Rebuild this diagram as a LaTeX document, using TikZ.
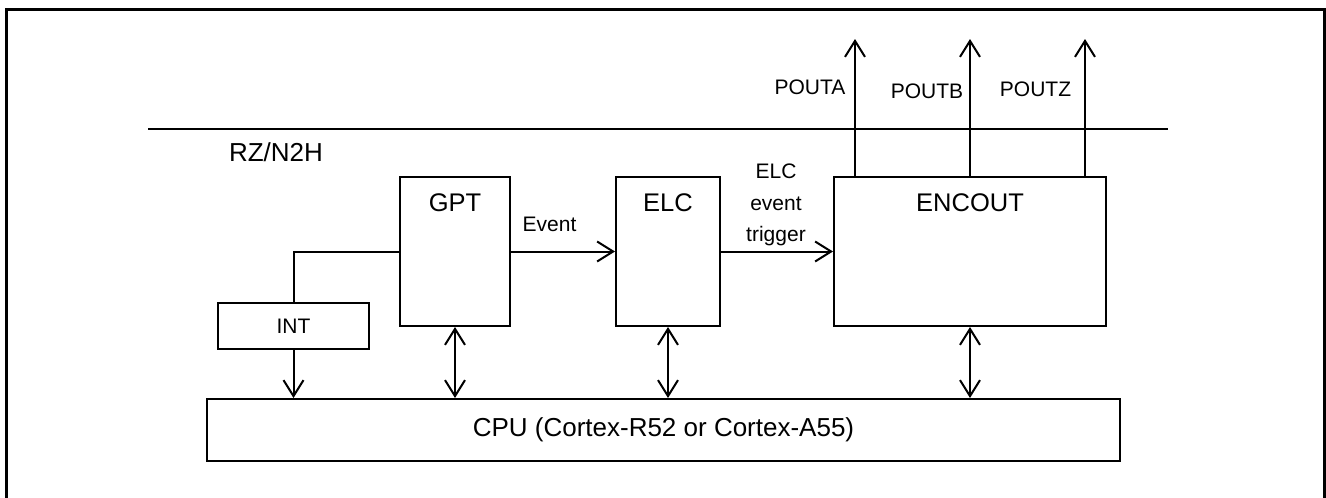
\documentclass[tikz,border=0pt]{standalone}
\usepackage{fontspec}
\setmainfont{Liberation Sans}
\usetikzlibrary{arrows.meta}
\tikzset{
  box/.style={draw=black, line width=2pt, inner sep=0pt, fill=none},
  conn/.style={line width=2pt, black},
  tip/.style={-{Straight Barb[length=16pt,width=20pt,line width=2pt]}},
  dtip/.style={{Straight Barb[length=16pt,width=20pt,line width=2pt]}-{Straight Barb[length=16pt,width=20pt,line width=2pt]}},
  title/.style={font=\fontsize{25.5}{30}\selectfont, inner sep=0pt, anchor=center},
  sig/.style={font=\fontsize{21}{31.5}\selectfont, inner sep=0pt, anchor=base}
}
\begin{document}
\begin{tikzpicture}[x=1pt,y=-1pt]
\useasboundingbox (0,0) rectangle (1326,498);
\fill[white] (0,0) rectangle (1326,498);
\begin{scope}
\clip (0,0) rectangle (1326,498);
\node[draw, line width=3pt, inner sep=0pt, minimum width=1318pt, minimum height=520pt, anchor=north west] (frame) at (5,7.5) {};
\end{scope}
\coordinate (bl) at (148,129);
\coordinate (br) at (1168,129);
\draw[line width=1.6pt] (bl) -- (br);
\node[font=\fontsize{26}{30}\selectfont, inner sep=0pt, anchor=base] (rz) at (276,161.5) {RZ/N2H};

\node[box, minimum width=110pt, minimum height=149pt] (gpt) at (455,251.5) {};
\node[box, minimum width=104pt, minimum height=149pt] (elc) at (668,251.5) {};
\node[box, minimum width=272pt, minimum height=149pt] (enc) at (970,251.5) {};
\node[box, minimum width=151pt, minimum height=46pt, font=\fontsize{21}{25}\selectfont] (int) at (293.5,326) {INT};
\node[box, minimum width=913pt, minimum height=62pt, font=\fontsize{26}{30}\selectfont] (cpu) at (663.5,430) {CPU (Cortex-R52 or Cortex-A55)};

\node[title] (gptt) at (455,203) {GPT};
\node[title] (elct) at (668,203) {ELC};
\node[title] (enct) at (970,203) {ENCOUT};

\node[sig] (ev) at (549.5,231) {Event};
\node[sig, align=center, anchor=north] (elcev) at (776,164) {ELC\\event\\trigger};

\coordinate (pa) at (855,39);
\coordinate (pb) at (970,39);
\coordinate (pz) at (1085,39);
\node[sig] (pal) at (810,94) {POUTA};
\node[sig] (pbl) at (927,98) {POUTB};
\node[sig] (pzl) at (1035.5,96.5) {POUTZ};

\draw[conn, tip] (pa |- enc.north) -- (pa);
\draw[conn, tip] (pb |- enc.north) -- (pb);
\draw[conn, tip] (pz |- enc.north) -- (pz);

\draw[conn] (int.north) |- (gpt.west);
\draw[conn, tip] (gpt.east) -- (elc.west);
\draw[conn, tip] (elc.east) -- (enc.west);

\draw[conn, tip] (int.south) -- (int.south |- cpu.north);
\draw[conn, dtip] (gpt.south) -- (gpt.south |- cpu.north);
\draw[conn, dtip] (elc.south) -- (elc.south |- cpu.north);
\draw[conn, dtip] (enc.south) -- (enc.south |- cpu.north);
\end{tikzpicture}
\end{document}
